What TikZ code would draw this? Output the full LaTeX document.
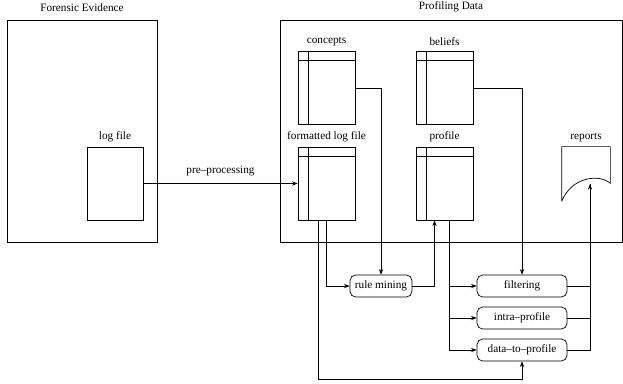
\documentclass[tikz,border=0pt]{standalone}
\usepackage{fontspec}
\setmainfont{Liberation Serif}
\usetikzlibrary{arrows.meta}
\tikzset{
  >={Stealth[length=4pt,width=3pt]},
  every node/.style={font=\fontsize{8}{9.6}\selectfont},
  area/.style={draw, inner sep=0, label={[label distance=2pt]above:#1}},
  tbl/.style={draw, inner sep=0, minimum width=1.425cm, minimum height=1.825cm,
    label={[label distance=0pt]above:#1},
    path picture={
      \draw ([yshift=-0.225cm]path picture bounding box.north west) -- ([yshift=-0.225cm]path picture bounding box.north east);
      \draw ([xshift=0.25cm]path picture bounding box.north west) -- ([xshift=0.25cm]path picture bounding box.south west);}},
  proc/.style={draw, rounded corners=4pt, inner sep=0, minimum height=0.55cm, minimum width=#1},
  proc/.default=2.25cm
}
\begin{document}
\begin{tikzpicture}[x=0.025cm, y=-0.025cm, line width=0.5pt]
\useasboundingbox (0,0) rectangle (623,383);

% the two stores
\node (forensic) [area=Forensic Evidence, minimum width=3.75cm, minimum height=5.55cm] at (82,131) {};
\node (profiling) [area=Profiling Data, minimum width=8.55cm, minimum height=5.55cm] at (451,131) {};

\node (log) [draw, inner sep=0, minimum width=1.4cm, minimum height=1.825cm, label=above:log file] at (115,183.5) {};
\node (concepts) [tbl=concepts] at (326.5,88) {};
\node (beliefs) [tbl=beliefs] at (444.5,88) {};
\node (fmt) [tbl=formatted log file] at (326.5,183.5) {};
\node (profile) [tbl=profile] at (444.5,183.5) {};

% reports document
\node (reports) [inner sep=0, minimum width=1.2cm, minimum height=1.35cm, label=above:reports] at (586,174) {};
\draw (reports.south west) -- (reports.north west) -- (reports.north east) -- ([yshift=0.45cm]reports.south east)
  .. controls (600,174) and (572,176) .. (reports.south west);
\coordinate (rep) at (590,184);

% processing steps
\node (rule) [proc=1.55cm] at (381,286) {rule mining};
\node (filter) [proc] at (522,286) {filtering};
\node (intra) [proc] at (522,318) {intra--profile};
\node (dtp) [proc] at (522,350) {data--to--profile};

\draw[->] (log.east) -- node[above=2pt]{pre--processing} (fmt.west);
\draw[->] (concepts.east) -| (rule.north);
\draw[->] (beliefs.east) -| (filter.north);
\draw[->] (fmt.south) |- (rule.west);
\draw[->] (rule.east) -| ([xshift=-0.25cm]profile.south);
\draw[->] ([xshift=-0.21cm]fmt.south) |- ([yshift=-0.45cm]dtp.south) -| (dtp.south);
\draw[->] ([xshift=0.11cm]profile.south) |- (filter.west);
\draw[->] ([xshift=0.11cm]profile.south) |- (intra.west);
\draw[->] ([xshift=0.11cm]profile.south) |- (dtp.west);
\draw (filter.east) -| (rep);
\draw (intra.east) -| (rep);
\draw[->] (dtp.east) -| (rep);
\end{tikzpicture}
\end{document}
